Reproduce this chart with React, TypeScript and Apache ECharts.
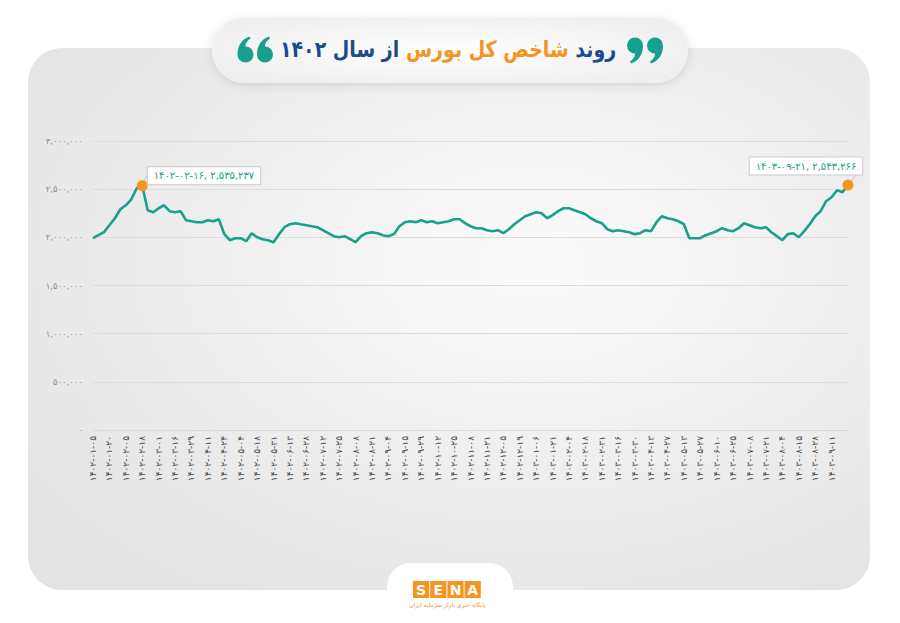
import React, { useEffect, useRef } from "react";
import * as echarts from "echarts";

const FA_DIGITS = "۰۱۲۳۴۵۶۷۸۹";
const toFa = (s: string) => s.replace(/[0-9]/g, (d) => FA_DIGITS[+d]);
const fmt = (n: number) => toFa(Math.round(n).toLocaleString("en-US"));

// x-axis tick labels (one every 3 data points)
const dateLabels = [
  "۱۴۰۲-۰۱-۰۵", "۱۴۰۲-۰۱-۲۰", "۱۴۰۲-۰۲-۰۵", "۱۴۰۲-۰۲-۱۸", "۱۴۰۲-۰۳-۰۱", "۱۴۰۲-۰۳-۱۶",
  "۱۴۰۲-۰۳-۲۹", "۱۴۰۲-۰۴-۱۱", "۱۴۰۲-۰۴-۲۴", "۱۴۰۲-۰۵-۰۴", "۱۴۰۲-۰۵-۱۸", "۱۴۰۲-۰۵-۳۱",
  "۱۴۰۲-۰۶-۱۳", "۱۴۰۲-۰۶-۲۸", "۱۴۰۲-۰۷-۱۲", "۱۴۰۲-۰۷-۲۵", "۱۴۰۲-۰۸-۰۸", "۱۴۰۲-۰۸-۲۱",
  "۱۴۰۲-۰۹-۰۴", "۱۴۰۲-۰۹-۱۵", "۱۴۰۲-۰۹-۲۹", "۱۴۰۲-۱۰-۱۲", "۱۴۰۲-۱۰-۲۵", "۱۴۰۲-۱۱-۰۸",
  "۱۴۰۲-۱۱-۲۱", "۱۴۰۲-۱۲-۰۵", "۱۴۰۲-۱۲-۱۹", "۱۴۰۳-۰۱-۰۶", "۱۴۰۳-۰۱-۲۱", "۱۴۰۳-۰۲-۰۴",
  "۱۴۰۳-۰۲-۱۸", "۱۴۰۳-۰۲-۳۱", "۱۴۰۳-۰۳-۱۶", "۱۴۰۳-۰۳-۳۰", "۱۴۰۳-۰۴-۱۳", "۱۴۰۳-۰۴-۲۷",
  "۱۴۰۳-۰۵-۱۳", "۱۴۰۳-۰۵-۲۷", "۱۴۰۳-۰۶-۱۰", "۱۴۰۳-۰۶-۲۵", "۱۴۰۳-۰۷-۰۸", "۱۴۰۳-۰۷-۲۱",
  "۱۴۰۳-۰۸-۰۴", "۱۴۰۳-۰۸-۱۵", "۱۴۰۳-۰۸-۲۸", "۱۴۰۳-۰۹-۱۱",
];
const labelEvery = 3;

// index values
const indexValues = [
  1991000, 2022000, 2053000, 2126000, 2198000, 2292000, 2333000, 2395000, 2510000, 2535237,
  2281000, 2261000, 2302000, 2333000, 2271000, 2261000, 2271000, 2178000, 2167000, 2157000,
  2157000, 2178000, 2167000, 2188000, 2033000, 1970000, 1991000, 1991000, 1960000, 2043000,
  2001000, 1981000, 1970000, 1950000, 2033000, 2105000, 2136000, 2147000, 2136000, 2126000,
  2115000, 2105000, 2074000, 2043000, 2012000, 2001000, 2012000, 1981000, 1950000, 2012000,
  2043000, 2053000, 2043000, 2022000, 2012000, 2033000, 2115000, 2157000, 2167000, 2157000,
  2178000, 2157000, 2167000, 2147000, 2157000, 2167000, 2188000, 2188000, 2147000, 2115000,
  2095000, 2095000, 2074000, 2064000, 2074000, 2043000, 2084000, 2136000, 2178000, 2219000,
  2240000, 2261000, 2250000, 2198000, 2230000, 2271000, 2302000, 2302000, 2281000, 2261000,
  2240000, 2198000, 2167000, 2147000, 2084000, 2064000, 2074000, 2064000, 2053000, 2033000,
  2043000, 2074000, 2064000, 2157000, 2219000, 2198000, 2188000, 2167000, 2136000, 1991000,
  1991000, 1991000, 2022000, 2043000, 2064000, 2095000, 2074000, 2064000, 2095000, 2147000,
  2126000, 2105000, 2095000, 2105000, 2053000, 2012000, 1970000, 2033000, 2043000, 2001000,
  2064000, 2136000, 2219000, 2271000, 2375000, 2416000, 2489000, 2468000, 2543266,
];

// highlighted points
const highlightIndices = [9, indexValues.length - 1];
const highlightDates = ["۱۴۰۲-۰۲-۱۶", "۱۴۰۳-۰۹-۲۱"];

const yMin = 0;
const yMax = 3000000;
const yInterval = 500000;

const titleParts = ["از سال ۱۴۰۲", " شاخص کل بورس ", "روند"];
const subtitleText = "پایگاه خبری بازار سرمایه ایران";
const logoLetters = ["S", "E", "N", "A"];

const TEAL = "#17a08c";
const ORANGE = "#f7931e";
const NAVY = "#1c4a8c";

const quotePath =
  "M -8 0 A 8 8 0 0 1 8 0 C 8 9 4 15 -4 18 L -5 16 C -1 13 0 11 0 8 A 8 8 0 0 1 -8 0 Z";
echarts.graphic.registerShape("quoteMark", echarts.graphic.extendPath(quotePath, {}));

export default function App() {
  const ref = useRef<HTMLDivElement>(null);

  useEffect(() => {
    if (!ref.current) return;
    const chart = echarts.init(ref.current, null, { renderer: "svg" });

    const quote = (x: number, y: number, flip: boolean) => ({
      type: "quoteMark",
      x,
      y,
      scaleX: flip ? -1 : 1,
      scaleY: flip ? -1 : 1,
      z: 12,
      style: { fill: TEAL },
    });

    const logoCells: any[] = [];
    logoLetters.forEach((l, i) => {
      const cx = 413 + i * 17.2;
      logoCells.push({
        type: "rect",
        z: 12,
        shape: { x: cx, y: 581, width: 16.2, height: 17 },
        style: { fill: ORANGE },
      });
      logoCells.push({
        type: "text",
        z: 13,
        x: cx + 8.1,
        y: 589.8,
        style: {
          text: l,
          fill: "#fff",
          font: "bold 14px 'DejaVu Sans', sans-serif",
          align: "center",
          verticalAlign: "middle",
        },
      });
    });

    const option: any = {
      animation: false,
      backgroundColor: "#ffffff",
      grid: { left: 93, right: 52, top: 141, bottom: 193, containLabel: false },
      xAxis: {
        type: "value",
        min: 0,
        max: indexValues.length - 1,
        interval: labelEvery,
        axisLine: { show: true, onZero: false, lineStyle: { color: "#d9d9d9", width: 1 } },
        axisTick: { show: false },
        splitLine: { show: false },
        axisLabel: {
          rotate: 90,
          margin: 6,
          fontSize: 9,
          color: "#444",
          fontFamily: "'DejaVu Sans', sans-serif",
          formatter: (v: number) => dateLabels[Math.round(v / labelEvery)] ?? "",
        },
      },
      yAxis: {
        type: "value",
        min: yMin,
        max: yMax,
        interval: yInterval,
        axisLine: { show: false },
        axisTick: { show: false },
        splitLine: { lineStyle: { color: "#dcdcdc", width: 1 } },
        axisLabel: {
          margin: 10,
          fontSize: 8.5,
          color: "#8c8c8c",
          fontFamily: "'DejaVu Sans', sans-serif",
          formatter: (v: number) => fmt(v),
        },
      },
      series: [
        {
          type: "line",
          data: indexValues.map((v, i) => [i, v]),
          symbol: "none",
          lineStyle: { color: TEAL, width: 2.6 },
          z: 3,
        },
        {
          type: "scatter",
          z: 5,
          symbol: "circle",
          symbolSize: 11,
          itemStyle: { color: ORANGE, opacity: 1 },
          data: highlightIndices.map((idx, k) => ({
            value: [idx, indexValues[idx]],
            label: { position: k === 0 ? "right" : "top" },
          })),
          label: {
            show: true,
            distance: 3,
            formatter: (p: any) => `${highlightDates[p.dataIndex]}, ${fmt(p.value[1])}`,
            color: TEAL,
            fontSize: 10,
            fontFamily: "'DejaVu Sans', sans-serif",
            backgroundColor: "#ffffff",
            borderColor: "#c9c9c9",
            borderWidth: 1,
            padding: [4, 6, 3, 6],
          },
          labelLine: { show: true, lineStyle: { color: "#bdbdbd", width: 1 } },
          labelLayout: (p: any) => (p.dataIndex === 0 ? { dx: -3, dy: -10 } : { dx: -42, dy: -2 }),
        },
      ],
      graphic: [
        {
          type: "rect",
          z: -10,
          silent: true,
          shape: { x: 28, y: 48, width: 842, height: 542, r: 34 },
          style: {
            fill: new echarts.graphic.RadialGradient(0.6, 0.4, 0.75, [
              { offset: 0, color: "#fbfbfb" },
              { offset: 1, color: "#e3e3e3" },
            ]),
          },
        },
        {
          type: "rect",
          z: -9,
          silent: true,
          shape: { x: 387, y: 563, width: 126, height: 70, r: [24, 24, 0, 0] },
          style: { fill: "#ffffff" },
        },
        {
          type: "rect",
          z: 10,
          silent: true,
          shape: { x: 212, y: 18, width: 476, height: 65, r: 32.5 },
          style: {
            fill: new echarts.graphic.RadialGradient(0.5, 0.5, 0.6, [
              { offset: 0, color: "#ffffff" },
              { offset: 1, color: "#eeeeee" },
            ]),
            shadowBlur: 10,
            shadowColor: "rgba(0,0,0,0.13)",
            shadowOffsetY: 2,
          },
        },
        quote(635, 45.5, false),
        quote(655, 45.5, false),
        quote(245.5, 54.5, true),
        quote(265, 54.5, true),
        {
          type: "text",
          z: 12,
          x: 448,
          y: 49,
          scaleY: 1.18,
          style: {
            text: `{a|${titleParts[0]}}{b|${titleParts[1]}}{a|${titleParts[2]}}`,
            align: "center",
            verticalAlign: "middle",
            rich: {
              a: { fill: NAVY, font: "bold 19px 'DejaVu Sans', sans-serif" },
              b: { fill: ORANGE, font: "bold 19px 'DejaVu Sans', sans-serif" },
            },
          },
        },
        ...logoCells,
        {
          type: "text",
          z: 12,
          x: 447.5,
          y: 604,
          style: {
            text: subtitleText,
            fill: ORANGE,
            font: "6px 'DejaVu Sans', sans-serif",
            align: "center",
            verticalAlign: "middle",
          },
        },
      ],
    };

    chart.setOption(option);
    return () => chart.dispose();
  }, []);

  return (
    <div
      ref={ref}
      style={{ position: "absolute", left: 0, top: 0, width: 900, height: 623 }}
    />
  );
}
